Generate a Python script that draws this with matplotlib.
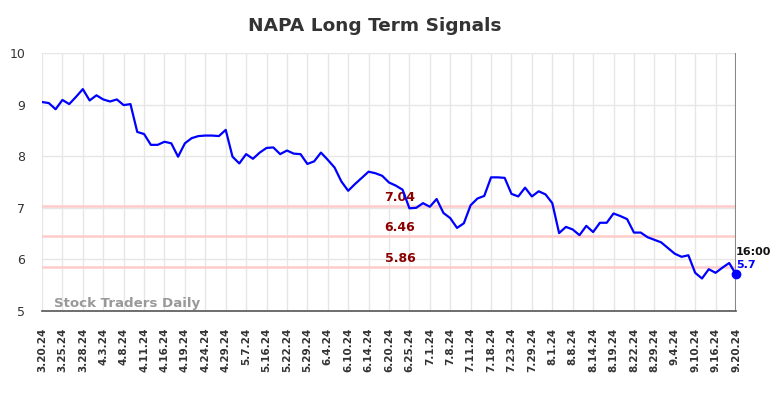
import matplotlib
matplotlib.use("Agg")
import matplotlib.pyplot as plt
import numpy as np

title = "NAPA Long Term Signals"
tick_labels = ["3.20.24", "3.25.24", "3.28.24", "4.3.24", "4.8.24", "4.11.24", "4.16.24",
               "4.19.24", "4.24.24", "4.29.24", "5.7.24", "5.16.24", "5.22.24", "5.29.24",
               "6.4.24", "6.10.24", "6.14.24", "6.20.24", "6.25.24", "7.1.24", "7.8.24",
               "7.11.24", "7.18.24", "7.23.24", "7.29.24", "8.1.24", "8.8.24", "8.14.24",
               "8.19.24", "8.22.24", "8.29.24", "9.4.24", "9.10.24", "9.16.24", "9.20.24"]
values = [9.05, 9.03, 8.91, 9.09, 9.01, 9.15, 9.30, 9.08, 9.18, 9.10,
          9.06, 9.10, 8.99, 9.01, 8.47, 8.43, 8.22, 8.22, 8.28, 8.25,
          7.99, 8.25, 8.35, 8.39, 8.40, 8.40, 8.39, 8.51, 7.99, 7.86,
          8.04, 7.95, 8.07, 8.16, 8.17, 8.04, 8.11, 8.05, 8.04, 7.85,
          7.90, 8.07, 7.93, 7.78, 7.51, 7.33, 7.46, 7.58, 7.70, 7.67,
          7.62, 7.49, 7.43, 7.35, 6.99, 7.00, 7.09, 7.02, 7.17, 6.90,
          6.80, 6.61, 6.70, 7.05, 7.18, 7.23, 7.59, 7.59, 7.58, 7.27,
          7.22, 7.39, 7.22, 7.32, 7.26, 7.09, 6.51, 6.63, 6.58, 6.47,
          6.65, 6.53, 6.71, 6.71, 6.89, 6.84, 6.78, 6.52, 6.52, 6.43,
          6.38, 6.33, 6.22, 6.11, 6.05, 6.08, 5.74, 5.63, 5.81, 5.74,
          5.84, 5.93, 5.71]
levels = [7.04, 6.46, 5.86]
level_labels = ["7.04", "6.46", "5.86"]
last_time = "16:00"
last_label = "5.7"
watermark = "Stock Traders Daily"

x = np.arange(len(values))
tick_step = 3

fig = plt.figure(figsize=(7.84, 3.98), dpi=100)
ax = fig.add_axes([42/784, 87/398, 694/784, 258/398])

ax.set_xlim(0, len(values) - 1)
ax.set_ylim(5, 10)

ax.set_yticks([5, 6, 7, 8, 9, 10])
ax.set_xticks(x[::tick_step])
ax.set_xticklabels(tick_labels, rotation=90, fontsize=7.5, fontweight="bold", color="#333333")
ax.tick_params(axis="y", labelsize=9, labelcolor="#333333", length=0, pad=12)
ax.tick_params(axis="x", length=0, pad=12)
ax.grid(True, color="#e6e6e6", linewidth=1)
ax.set_axisbelow(True)

for s in ["left", "top", "right"]:
    ax.spines[s].set_visible(False)
ax.spines["bottom"].set_color("#555555")
ax.spines["bottom"].set_linewidth(1.2)

for lv, lb in zip(levels, level_labels):
    ax.axhline(lv, color="#ffcccc", linewidth=1.8, zorder=1)
    ax.text(52.6, lv + 0.03, lb, color="#8b0000", fontsize=9, fontweight="bold",
            ha="center", va="bottom")

ax.axvline(x[-1], color="#888888", linewidth=1.5, zorder=1)
ax.plot(x, values, color="#0000ff", linewidth=1.6, zorder=3)
ax.plot([x[-1]], [values[-1]], "o", color="#0000ff", markersize=6, zorder=4, clip_on=False)
ax.text(x[-1], values[-1] + 0.33, last_time, fontsize=8, fontweight="bold", color="#111111",
        ha="left", va="bottom")
ax.text(x[-1] + 0.1, values[-1] + 0.08, last_label, fontsize=8, fontweight="bold", color="#0000ff",
        ha="left", va="bottom")

ax.text(1.7, 5.02, watermark, fontsize=9.6, fontweight="bold", color="#999999",
        ha="left", va="bottom")

fig.text(375/784, 0.935, title, ha="center", va="center", fontsize=13.3, fontweight="bold", color="#333333")

fig.savefig("out.png", dpi=100)
